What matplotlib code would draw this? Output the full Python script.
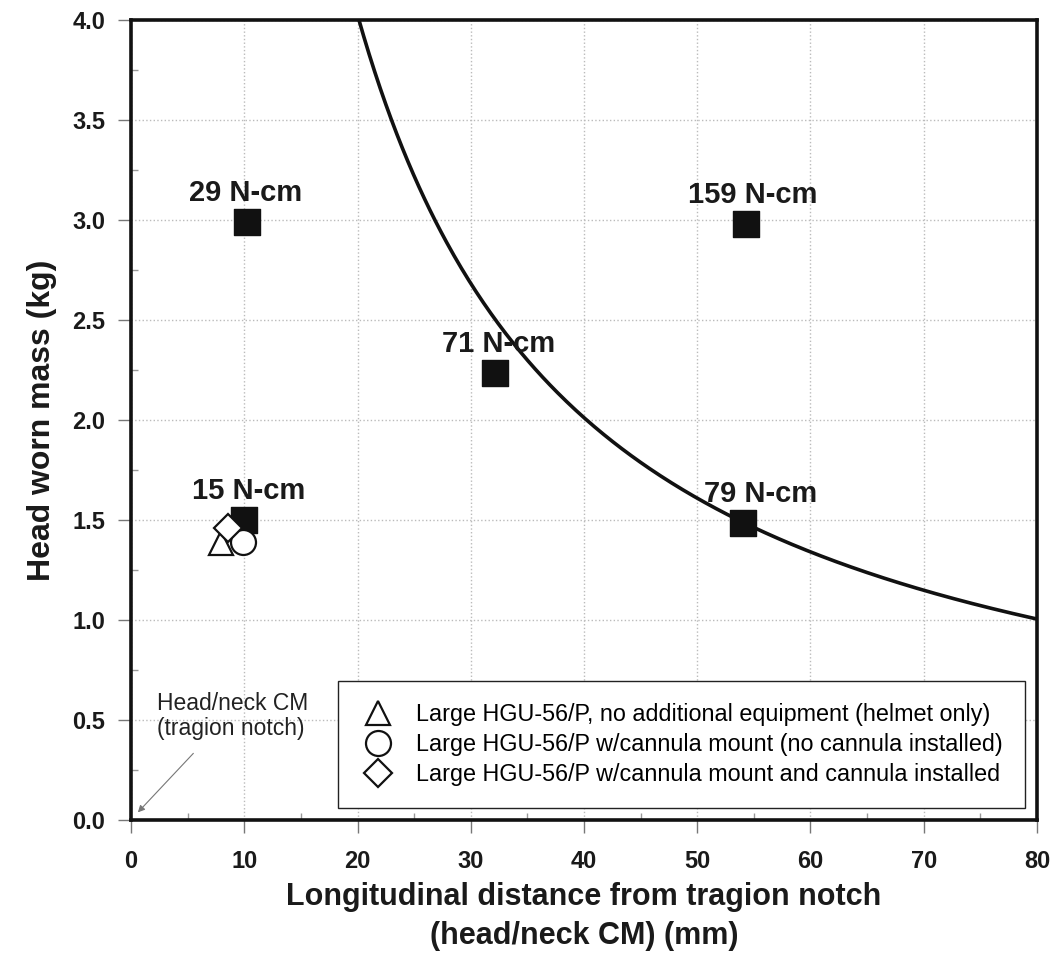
import numpy as np
import matplotlib.pyplot as plt
from matplotlib.ticker import MultipleLocator

plt.rcParams['font.family'] = ['Liberation Sans', 'DejaVu Sans']

# measured moments (filled squares)
dist_mm = [10.2, 32.1, 54.3, 10.0, 54.0]
mass_kg = [2.99, 2.235, 2.98, 1.50, 1.485]
moment_labels = ["29 N-cm", "71 N-cm", "159 N-cm", "15 N-cm", "79 N-cm"]
label_offsets = [(-1, 15), (3, 15), (5, 15), (3, 15), (13, 15)]

# helmet configurations (open markers)
helmet_names = [
    "Large HGU-56/P, no additional equipment (helmet only)",
    "Large HGU-56/P w/cannula mount (no cannula installed)",
    "Large HGU-56/P w/cannula mount and cannula installed",
]
helmet_x = [7.9, 9.9, 8.6]
helmet_y = [1.385, 1.39, 1.46]
helmet_markers = ["^", "o", "D"]

# limit curve: constant moment about tragion notch
limit_moment = 79.0  # N-cm
g = 9.81

fig = plt.figure(figsize=(10.57, 9.64), dpi=100)
ax = fig.add_axes([0.124, 0.149, 0.857, 0.830])

d = np.linspace(15, 80, 400)
m = limit_moment / (g * d / 10.0)
ax.plot(d, m, color="#111111", lw=2.6, zorder=3)

ax.scatter(dist_mm, mass_kg, marker="s", s=340, color="#111111", zorder=4)
for x, y, t, off in zip(dist_mm, mass_kg, moment_labels, label_offsets):
    ax.annotate(t, (x, y), xytext=off, textcoords="offset points",
                ha="center", va="baseline", fontsize=21, fontweight="bold",
                color="#1a1a1a", zorder=6)

handles = []
sizes = [17, 18, 14.5]
zs = [5, 5, 6]
for hx, hy, mk, nm, sz, z in zip(helmet_x, helmet_y, helmet_markers, helmet_names, sizes, zs):
    h, = ax.plot([hx], [hy], linestyle="none", marker=mk, markersize=sz,
                 markerfacecolor="white", markeredgecolor="#111111",
                 markeredgewidth=1.6, label=nm, zorder=z)
    handles.append(h)

leg = ax.legend(handles=handles, loc="lower right", bbox_to_anchor=(0.987, 0.015),
                borderaxespad=0, fontsize=16.8, frameon=True, fancybox=False,
                edgecolor="#222222", framealpha=1.0, borderpad=0.95,
                handletextpad=0.9, labelspacing=0.3, handlelength=1.5)
leg.get_frame().set_linewidth(1.0)
leg.set_zorder(7)
for h, sz in zip(leg.legend_handles, [17, 18, 14.5]):
    h.set_markersize(sz)

ax.annotate("Head/neck CM\n(tragion notch)", xy=(2.3, 0.52),
            fontsize=16.5, color="#222222", ha="left", va="center", linespacing=1.1)
ax.annotate("", xy=(0.6, 0.04), xytext=(5.5, 0.335),
            arrowprops=dict(arrowstyle="-|>", color="#777777", lw=0.8,
                            shrinkA=0, shrinkB=0, mutation_scale=10))

ax.set_xlim(0, 80)
ax.set_ylim(0, 4.0)
ax.xaxis.set_major_locator(MultipleLocator(10))
ax.xaxis.set_minor_locator(MultipleLocator(5))
ax.yaxis.set_major_locator(MultipleLocator(0.5))
ax.yaxis.set_minor_locator(MultipleLocator(0.25))
ax.tick_params(which="major", direction="out", length=9.5, width=1.0,
               color="#777777", labelsize=17, pad=9)
ax.tick_params(axis="x", which="major", pad=12)
ax.tick_params(which="minor", direction="in", length=5, width=1.0, color="#999999")
for lab in ax.get_xticklabels() + ax.get_yticklabels():
    lab.set_fontweight("bold")
    lab.set_color("#1a1a1a")
ax.yaxis.set_major_formatter(plt.FormatStrFormatter("%.1f"))

ax.grid(True, which="major", linestyle=":", color="#bbbbbb", linewidth=1.0)
ax.set_axisbelow(True)
for s in ax.spines.values():
    s.set_linewidth(2.6)
    s.set_color("#111111")

ax.set_xlabel("Longitudinal distance from tragion notch\n(head/neck CM) (mm)",
              fontsize=22, fontweight="bold", color="#1a1a1a", labelpad=6,
              linespacing=1.4)
ax.set_ylabel("Head worn mass (kg)", fontsize=23, fontweight="bold",
              color="#1a1a1a", labelpad=11)

fig.savefig("out.png", dpi=100)
